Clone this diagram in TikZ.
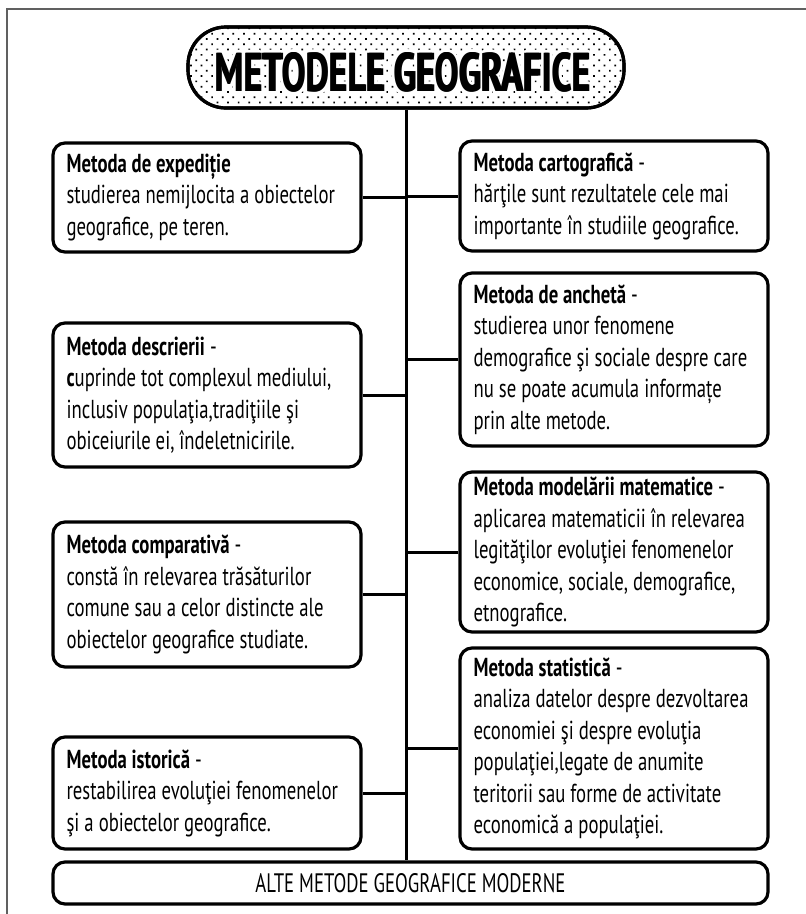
\documentclass[tikz,border=0pt]{standalone}
\usepackage{fontspec}
\setmainfont{PT Sans}[FakeStretch=0.72]
\newfontfamily\titlefont{PT Sans}
\usetikzlibrary{patterns.meta,calc}
\definecolor{framegray}{HTML}{606060}
\tikzset{
  box/.style={draw=black, line width=3.2pt, rounded corners=12pt, fill=white, inner sep=0pt},
  body/.style={align=left, anchor=west, inner sep=0pt, font=\fontsize{26}{31.5}\selectfont},
  link/.style={draw=black, line width=3pt},
  pill/.style={draw=black, line width=3.2pt, rounded corners=38pt, inner sep=0pt},
  titletext/.style={inner sep=0pt, font=\titlefont\bfseries\fontsize{56}{60}\selectfont},
}
\newcommand{\titleword}{\resizebox{376pt}{39pt}{METODELE GEOGRAFICE}}
\begin{document}
\begin{tikzpicture}[x=1pt,y=-1pt]
\useasboundingbox (0,0) rectangle (806,914);
\fill[white] (0,0) rectangle (806,914);
\draw[framegray, line width=1.3pt] (7,914) -- (7,9) -- (806,9);
% title
\node[pill, minimum width=436pt, minimum height=81pt, fill=white] (title) at (406,67.5) {};
\fill[pattern={Dots[distance=7.5pt, radius=1.2pt, angle=45]}] [rounded corners=38pt] (188,27) rectangle (624,108);
\draw[line width=3.2pt, rounded corners=38pt] (188,27) rectangle (624,108);
\foreach \a in {0,45,...,315} \node[titletext, text=white] (halo\a) at ($(403,72.5)+(\a:3.6)$) {\titleword};
\foreach \dx [count=\i] in {-0.7,0.7} \node[titletext] (tt\i) at ($(403,72.5)+(\dx,0)$) {\titleword};
% boxes
\node[box, minimum width=308pt, minimum height=109pt] (L1) at (207,197.5) {};
\node[box, minimum width=308pt, minimum height=144pt] (L2) at (207,395) {};
\node[box, minimum width=308pt, minimum height=145pt] (L3) at (207,594.5) {};
\node[box, minimum width=308pt, minimum height=112pt] (L4) at (207,793) {};
\node[box, minimum width=308pt, minimum height=110pt] (R1) at (614,196) {};
\node[box, minimum width=308pt, minimum height=173pt] (R2) at (614,359.5) {};
\node[box, minimum width=308pt, minimum height=160pt] (R3) at (614,552) {};
\node[box, minimum width=308pt, minimum height=201pt] (R4) at (614,748.5) {};
\node[box, minimum width=715pt, minimum height=42pt] (bottom) at (410.5,883) {};
% connectors
\draw[link] (title.south) -- (title.south |- bottom.north);
\foreach \b in {L1,L2,L3,L4} \draw[link] (\b.east) -- (\b.east -| title.south);
\foreach \b in {R1,R2,R3,R4} \draw[link] (\b.west) -- (\b.west -| title.south);
% texts
\node[body] (tL1) at ([xshift=15pt]L1.west) {\textbf{Metoda de expediție}\\studierea nemijlocita a obiectelor\\geografice, pe teren.};
\node[body] (tL2) at ([xshift=15pt]L2.west) {\textbf{Metoda descrierii} -\\\textbf{c}uprinde tot complexul mediului,\\inclusiv populaţia,tradiţiile şi\\obiceiurile ei, îndeletnicirile.};
\node[body] (tL3) at ([xshift=15pt]L3.west) {\textbf{Metoda comparativă} -\\constă în relevarea trăsăturilor\\comune sau a celor distincte ale\\obiectelor geografice studiate.};
\node[body] (tL4) at ([xshift=15pt]L4.west) {\textbf{Metoda istorică} -\\restabilirea evoluţiei fenomenelor\\şi a obiectelor geografice.};
\node[body] (tR1) at ([xshift=15pt]R1.west) {\textbf{Metoda cartografică} -\\hărţile sunt rezultatele cele mai\\importante în studiile geografice.};
\node[body] (tR2) at ([xshift=15pt]R2.west) {\textbf{Metoda de anchetă} -\\studierea unor fenomene\\demografice şi sociale despre care\\nu se poate acumula informațe\\prin alte metode.};
\node[body] (tR3) at ([xshift=15pt]R3.west) {\textbf{Metoda modelării matematice} -\\aplicarea matematicii în relevarea\\legităţilor evoluţiei fenomenelor\\economice, sociale, demografice,\\etnografice.};
\node[body] (tR4) at ([xshift=15pt]R4.west) {\textbf{Metoda statistică} -\\analiza datelor despre dezvoltarea\\economiei şi despre evoluţia\\populaţiei,legate de anumite\\teritorii sau forme de activitate\\economică a populaţiei.};
\node[inner sep=0pt, font=\fontsize{27}{30}\selectfont] (tB) at (bottom.center) {\resizebox{310pt}{19pt}{ALTE METODE GEOGRAFICE MODERNE}};
\end{tikzpicture}
\end{document}
